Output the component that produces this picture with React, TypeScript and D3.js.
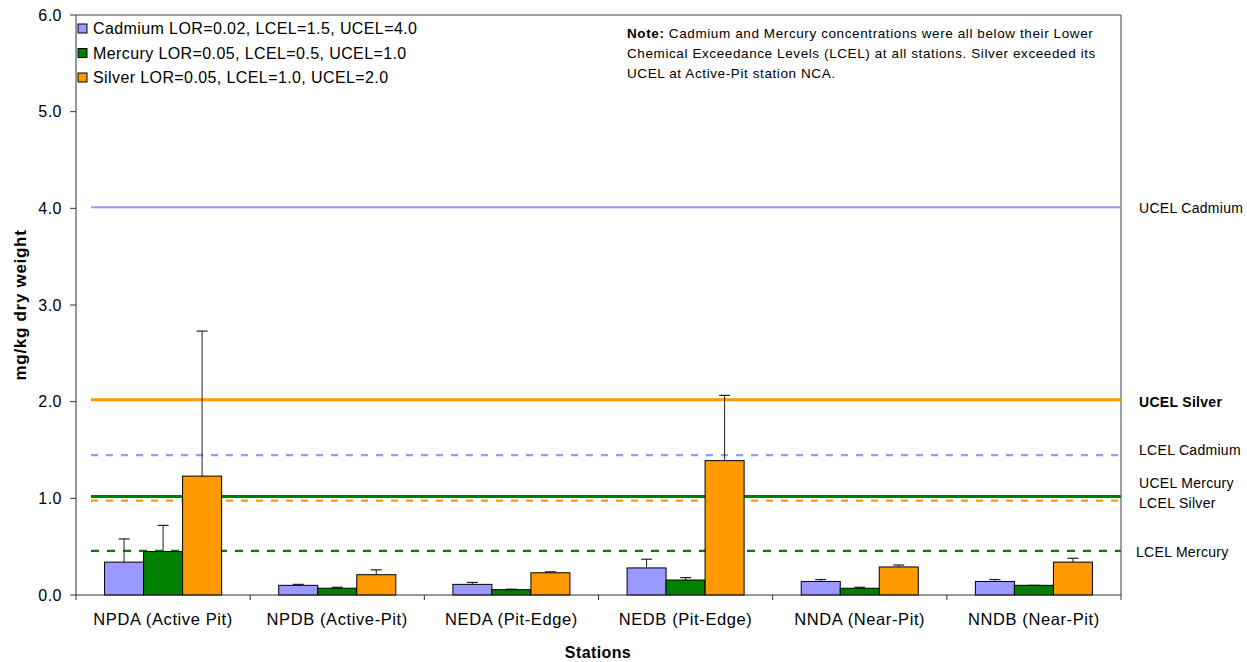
import React from "react";
import * as d3 from "d3";

const stations = ["NPDA (Active Pit)", "NPDB (Active-Pit)", "NEDA (Pit-Edge)", "NEDB (Pit-Edge)", "NNDA (Near-Pit)", "NNDB (Near-Pit)"];
const seriesNames = ["Cadmium LOR=0.02, LCEL=1.5, UCEL=4.0", "Mercury LOR=0.05, LCEL=0.5, UCEL=1.0", "Silver LOR=0.05, LCEL=1.0, UCEL=2.0"];
const cadmium = [0.34, 0.1, 0.11, 0.28, 0.14, 0.14];
const cadmiumErr = [0.58, 0.11, 0.13, 0.37, 0.16, 0.16];
const mercury = [0.45, 0.07, 0.055, 0.155, 0.07, 0.1];
const mercuryErr = [0.72, 0.08, 0.06, 0.18, 0.08, 0.1];
const silver = [1.23, 0.21, 0.23, 1.39, 0.29, 0.34];
const silverErr = [2.73, 0.26, 0.24, 2.065, 0.31, 0.38];
const yTicks = [0, 1, 2, 3, 4, 5, 6];
const refLabels = ["UCEL Cadmium", "UCEL Silver", "LCEL Cadmium", "UCEL Mercury", "LCEL Silver", "LCEL Mercury"];
const refValues = [4.01, 2.02, 1.447, 1.02, 0.977, 0.456];
const refLabelValues = [4.0, 2.0, 1.5, 1.16, 0.95, 0.44];
const noteLines = [
  "Cadmium and Mercury concentrations were all below their Lower",
  "Chemical Exceedance Levels (LCEL) at all stations.  Silver exceeded its",
  "UCEL at Active-Pit station NCA.",
];

const colors = ["#9999FF", "#008000", "#FF9900"];
const refStyles = [
  { color: "#9999FF", width: 2, dash: "" },
  { color: "#FF9900", width: 3, dash: "" },
  { color: "#9999FF", width: 2.2, dash: "7,8" },
  { color: "#008000", width: 3, dash: "" },
  { color: "#FF9900", width: 2.2, dash: "7,8" },
  { color: "#008000", width: 2.2, dash: "8,8" },
];

export default function App() {
  const W = 1247, H = 662;
  const left = 76, right = 1121, top = 15, bottom = 595;
  const font = "'Liberation Sans', Arial, sans-serif";
  const x = d3.scaleBand<string>().domain(stations).range([left, right]).paddingInner(0).paddingOuter(0);
  const y = d3.scaleLinear().domain([0, 6]).range([bottom, top]);
  const bw = x.bandwidth();
  const barW = bw * 0.224;
  const groupOff = (bw - 3 * barW) / 2;
  const series = [
    { vals: cadmium, errs: cadmiumErr },
    { vals: mercury, errs: mercuryErr },
    { vals: silver, errs: silverErr },
  ];
  const lineStart = left + 15;

  return (
    <svg width={W} height={H} style={{ position: "absolute", left: 0, top: 0, background: "#fff" }} fontFamily={font}>
      {/* plot frame */}
      <line x1={left} x2={right} y1={top} y2={top} stroke="#808080" strokeWidth={1.5} />
      <line x1={right} x2={right} y1={top} y2={bottom + 5} stroke="#808080" strokeWidth={1.5} />

      {/* reference lines */}
      {refValues.map((v, i) => (
        <line key={"r" + i} x1={lineStart} x2={right} y1={y(v)} y2={y(v)}
          stroke={refStyles[i].color} strokeWidth={refStyles[i].width}
          strokeDasharray={refStyles[i].dash || undefined} />
      ))}

      {/* bars */}
      {stations.map((s, si) => (
        <g key={s}>
          {series.map((ser, k) => {
            const bx = (x(s) as number) + groupOff + k * barW;
            const cx = bx + barW / 2;
            const v = ser.vals[si];
            const e = ser.errs[si];
            return (
              <g key={k}>
                <line x1={cx} x2={cx} y1={y(v)} y2={y(e)} stroke="#222" strokeWidth={1} />
                <line x1={cx - 5.5} x2={cx + 5.5} y1={y(e)} y2={y(e)} stroke="#222" strokeWidth={1.2} />
                <rect x={bx} y={y(v)} width={barW} height={bottom - y(v)} fill={colors[k]} stroke="#000" strokeWidth={1} />
              </g>
            );
          })}
        </g>
      ))}

      {/* axes */}
      <line x1={left} x2={left} y1={top} y2={bottom} stroke="#333" strokeWidth={1} />
      <line x1={left} x2={right} y1={bottom} y2={bottom} stroke="#333" strokeWidth={1} />
      {yTicks.map((t) => (
        <g key={"yt" + t}>
          <line x1={left - 6} x2={left} y1={y(t)} y2={y(t)} stroke="#333" />
          <text x={left - 14} y={y(t)} dy="0.35em" textAnchor="end" fontSize={16} letterSpacing={0.5} fill="#000">{t.toFixed(1)}</text>
        </g>
      ))}
      {stations.map((s) => (
        <line key={"xt" + s} x1={x(s) as number} x2={x(s) as number} y1={bottom} y2={bottom + 5} stroke="#333" />
      ))}
      {stations.map((s) => (
        <text key={"xl" + s} x={(x(s) as number) + bw / 2} y={bottom + 30} textAnchor="middle" fontSize={16.5} letterSpacing={0.6} fill="#000">{s}</text>
      ))}

      {/* axis titles */}
      <text x={598} y={658} textAnchor="middle" fontSize={16} letterSpacing={0.4} fontWeight="bold">Stations</text>
      <text transform={`translate(26,${(top + bottom) / 2}) rotate(-90)`} textAnchor="middle" fontSize={17} letterSpacing={0.7} fontWeight="bold">mg/kg dry weight</text>

      {/* right labels */}
      {refLabels.map((l, i) => (
        <text key={"rl" + l} x={i === 5 ? 1136 : 1139} y={y(refLabelValues[i])} dy="0.35em" fontSize={14} letterSpacing={0.3}
          fontWeight={i === 1 ? "bold" : "normal"} fill="#000">{l}</text>
      ))}

      {/* legend */}
      {seriesNames.map((n, i) => (
        <g key={"lg" + i}>
          <rect x={78} y={24 + i * 24.5} width={9} height={9} fill={colors[i]} stroke="#000" strokeWidth={1} />
          <text x={93} y={28.5 + i * 24.5} dy="0.35em" fontSize={16} letterSpacing={0.4} fill="#000">{n}</text>
        </g>
      ))}

      {/* note */}
      {noteLines.map((l, i) => (
        <text key={"n" + i} x={627} y={33 + i * 20} dy="0.35em" fontSize={13.5} letterSpacing={0.6} fill="#000">
          {i === 0 ? <tspan fontWeight="bold">Note: </tspan> : null}
          {l}
        </text>
      ))}
    </svg>
  );
}
